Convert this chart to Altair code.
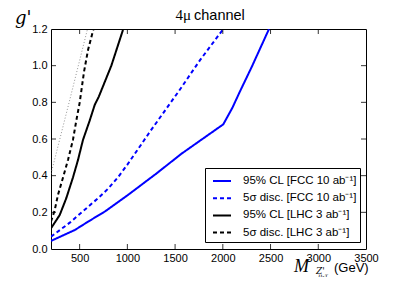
import altair as alt
import pandas as pd

# ---- data ----
fcc95_m = [200, 451, 588, 766, 1007, 1300, 1568, 1800, 2005, 2100, 2180, 2300, 2484]
fcc95_g = [0.044, 0.104, 0.149, 0.205, 0.295, 0.41, 0.52, 0.605, 0.68, 0.77, 0.86, 0.99, 1.2]

fcc5_m = [200, 400, 588, 700, 800, 900, 1000, 1237, 1551, 1761, 2005]
fcc5_g = [0.067, 0.145, 0.23, 0.28, 0.33, 0.39, 0.46, 0.64, 0.87, 1.03, 1.2]

lhc95_m = [200, 291, 360, 430, 483, 535, 605, 658, 700, 832, 954]
lhc95_g = [0.113, 0.185, 0.277, 0.39, 0.486, 0.595, 0.70, 0.786, 0.83, 1.0, 1.195]

lhc5_m = [200, 238, 273, 326, 378, 430, 465, 501, 546, 588, 645]
lhc5_g = [0.15, 0.21, 0.295, 0.39, 0.486, 0.595, 0.70, 0.80, 0.967, 1.086, 1.2]

dot_m = [200, 390, 580]
dot_g = [0.41, 0.80, 1.195]

names = [
    "95% CL [FCC 10 ab\u207b\u00b9]",
    "5\u03c3 disc. [FCC 10 ab\u207b\u00b9]",
    "95% CL [LHC 3 ab\u207b\u00b9]",
    "5\u03c3 disc. [LHC 3 ab\u207b\u00b9]",
]
colors = ["#0000ff", "#0000ff", "#000000", "#000000"]
dashes = [[1, 0], [4, 3], [1, 0], [4, 3]]

x_ticks = [500, 1000, 1500, 2000, 2500, 3000, 3500]
y_ticks = [0.0, 0.2, 0.4, 0.6, 0.8, 1.0, 1.2]

rows = []
for name, ms, gs in zip(names, [fcc95_m, fcc5_m, lhc95_m, lhc5_m],
                        [fcc95_g, fcc5_g, lhc95_g, lhc5_g]):
    for i, (m, g) in enumerate(zip(ms, gs)):
        rows.append({"series": name, "m": m, "g": g, "i": i})
df = pd.DataFrame(rows)
dot_df = pd.DataFrame({"m": dot_m, "g": dot_g})

W, H = 315, 220
FONT = "Liberation Sans"
SERIF = "DejaVu Serif"

xscale = alt.Scale(domain=[200, 3500], nice=False, zero=False)
yscale = alt.Scale(domain=[0, 1.2], nice=False, zero=False)

xaxis = alt.Axis(values=x_ticks, title=None, ticks=False, domain=False, grid=False,
                 format="d", labelFontSize=11, labelFont=FONT, labelColor="black",
                 labelPadding=3, labelFlush=False, labelOverlap=False)
yaxis = alt.Axis(values=y_ticks, title=None, ticks=False, domain=False, grid=False,
                 format=".1f", labelFontSize=11, labelFont=FONT, labelColor="black",
                 labelPadding=4, labelFlush=False, labelOverlap=False)

leg = alt.Legend(title=None, orient="none", legendX=154, legendY=139,
                 symbolType="stroke", symbolSize=324, symbolStrokeWidth=2,
                 labelFontSize=11.5, labelFont=FONT, labelColor="black",
                 fillColor="white", strokeColor="black", padding=3, rowPadding=1.2,
                 symbolOffset=4, labelOffset=11, cornerRadius=0)

lines = alt.Chart(df).mark_line(strokeWidth=2, clip=True).encode(
    x=alt.X("m:Q", scale=xscale, axis=xaxis),
    y=alt.Y("g:Q", scale=yscale, axis=yaxis),
    color=alt.Color("series:N", scale=alt.Scale(domain=names, range=colors), legend=leg),
    strokeDash=alt.StrokeDash("series:N", scale=alt.Scale(domain=names, range=dashes), legend=leg),
    order="i:Q",
)

dotted = alt.Chart(dot_df).mark_line(color="#777777", strokeWidth=0.8,
                                     strokeDash=[1, 2], clip=True).encode(
    x=alt.X("m:Q", scale=xscale, axis=xaxis),
    y=alt.Y("g:Q", scale=yscale, axis=yaxis),
)

xt = pd.DataFrame({"v": x_ticks[:-1]})
yt = pd.DataFrame({"v": y_ticks[1:-1]})
tick_bottom = alt.Chart(xt).mark_rule(color="black", strokeWidth=0.8).encode(
    x=alt.X("v:Q", scale=xscale, axis=xaxis), y=alt.value(H), y2=alt.value(H - 5))
tick_top = alt.Chart(xt).mark_rule(color="black", strokeWidth=0.8).encode(
    x=alt.X("v:Q", scale=xscale, axis=xaxis), y=alt.value(0), y2=alt.value(5))
tick_left = alt.Chart(yt).mark_rule(color="black", strokeWidth=0.8).encode(
    y=alt.Y("v:Q", scale=yscale, axis=yaxis), x=alt.value(0), x2=alt.value(5))
tick_right = alt.Chart(yt).mark_rule(color="black", strokeWidth=0.8).encode(
    y=alt.Y("v:Q", scale=yscale, axis=yaxis), x=alt.value(W), x2=alt.value(W - 5))


def label(text, x, y, size, font, style="normal", align="left"):
    return alt.Chart(pd.DataFrame({"t": [text]})).mark_text(
        font=font, fontSize=size, fontStyle=style, align=align, baseline="alphabetic",
        color="black").encode(x=alt.value(x), y=alt.value(y), text="t:N")


texts = [
    label("4\u03bc", 140, -9, 15, "Liberation Serif", align="right"),
    label("channel", 143, -9, 14.5, FONT),
    label("g'", -36, -5, 18, SERIF, style="italic"),
    label("M", 243, 243, 18, "Liberation Serif", style="italic"),
    label("Z'", 265, 244.5, 9, SERIF, style="italic"),
    label("\u03bc-\u03c4", 267, 248.5, 6.5, SERIF, style="italic"),
    label("(GeV)", 283, 243, 13, FONT),
]

chart = alt.layer(lines, dotted, tick_bottom, tick_top, tick_left, tick_right, *texts).properties(
    width=W, height=H,
    autosize=alt.AutoSizeParams(type="none"),
    padding={"left": 43, "top": 21, "right": 33, "bottom": 28},
).configure_view(stroke="black", strokeWidth=1)

chart.save("out.html", embed_options={"renderer": "svg", "actions": False})
